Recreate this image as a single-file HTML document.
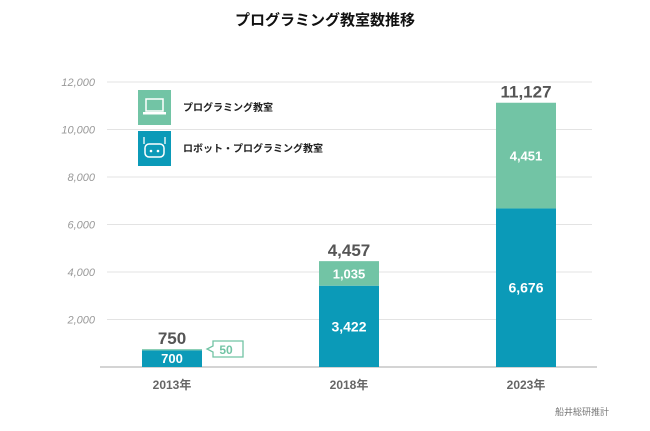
<!DOCTYPE html>
<html><head><meta charset="utf-8"><style>
body{margin:0;background:#fff;width:650px;height:426px;overflow:hidden;font-family:"Liberation Sans","Noto Sans CJK JP",sans-serif}
</style></head><body>
<svg width="650" height="426" xmlns="http://www.w3.org/2000/svg" style="font-family:'Liberation Sans','Noto Sans CJK JP',sans-serif">
<text x="325" y="25" text-anchor="middle" font-size="15" font-weight="bold" fill="#111">プログラミング教室数推移</text>
<g id="grid"></g>
<g id="bars"></g>
<g>
 <rect x="138" y="90" width="33" height="35" fill="#72c4a5"/>
 <rect x="146" y="99" width="17" height="12" fill="none" stroke="#fff" stroke-width="1.5"/>
 <rect x="143" y="112" width="23" height="2.5" fill="#fff"/>
 <text x="183" y="111" font-size="10" font-weight="bold" fill="#222">プログラミング教室</text>
 <rect x="138" y="131" width="33" height="35" fill="#0b9ab8"/>
 <rect x="145" y="144" width="19" height="13" rx="4" fill="none" stroke="#fff" stroke-width="1.5"/>
 <circle cx="151" cy="151" r="1.3" fill="#fff"/><circle cx="158" cy="151" r="1.3" fill="#fff"/>
 <line x1="144" y1="137" x2="144" y2="144" stroke="#fff" stroke-width="1.3"/><line x1="165" y1="137" x2="165" y2="144" stroke="#fff" stroke-width="1.3"/>
 <text x="183" y="152" font-size="10" font-weight="bold" fill="#222">ロボット・プログラミング教室</text>
</g>
<g>
 <path d="M213,341 H243 V357 H213 V352 L207,349 L213,346 Z" fill="#fff" stroke="#72c4a5" stroke-width="1.3"/>
 <text x="226" y="354" text-anchor="middle" font-size="12" font-weight="bold" fill="#72c4a5">50</text>
</g>
<text x="609" y="415" text-anchor="end" font-size="9" fill="#777">船井総研推計</text>
<script>
var categories=["2013年","2018年","2023年"];
var robotValues=[700,3422,6676];
var progValues=[50,1035,4451];
var totals=["750","4,457","11,127"];
var tickValues=[2000,4000,6000,8000,10000,12000];
var tickLabels=["2,000","4,000","6,000","8,000","10,000","12,000"];
var NS="http://www.w3.org/2000/svg";
function y(v){return 367-v*285/12000;}
function xc(i){return 172+i*177;}
function mk(tag,attrs,parent,txt){var e=document.createElementNS(NS,tag);for(var k in attrs)e.setAttribute(k,attrs[k]);if(txt!==undefined)e.textContent=txt;parent.appendChild(e);return e;}
var g=document.getElementById("grid"),b=document.getElementById("bars");
tickValues.forEach(function(v,i){
 var l=mk("line",{x1:107,x2:592,y1:y(v),y2:y(v),stroke:"#e3e3e3","stroke-width":1},g);
 
 
 var t=mk("text",{x:95,y:y(v)+4,"text-anchor":"end","font-size":11,"font-style":"italic",fill:"#999"},g,tickLabels[i]);
 
 
});
var ax=mk("line",{x1:100,x2:597,y1:367,y2:367,stroke:"#bbb","stroke-width":1.2},g);


categories.forEach(function(c,i){
 var x0=xc(i)-30,w=60,r=robotValues[i],p=progValues[i];
 var br=mk("rect",{x:x0,y:y(r),width:w,height:y(0)-y(r),fill:"#0b9ab8"},b);
 
 
 var bp=mk("rect",{x:x0,y:y(r+p),width:w,height:y(r)-y(r+p),fill:"#72c4a5"},b);
 
 
 var lr=mk("text",{x:xc(i),y:i==0?y(r/2)+4.5:y(r/2)+5,"text-anchor":"middle","font-size":i==0?13:14,"font-weight":"bold",fill:"#fff"},b,r.toLocaleString("en-US"));
 
 
 if(i>0){
  var lp=mk("text",{x:xc(i),y:y(r+p/2)+5,"text-anchor":"middle","font-size":13,"font-weight":"bold",fill:"#fff"},b,p.toLocaleString("en-US"));
  
  
 }
 var tt=mk("text",{x:xc(i),y:y(r+p)-5,"text-anchor":"middle","font-size":17,"font-weight":"bold",fill:"#555"},b,totals[i]);
 
 
 var cl=mk("text",{x:xc(i),y:389,"text-anchor":"middle","font-size":12,"font-weight":"bold",fill:"#666"},b,c);
 
 
});
</script>
</svg>
</body></html>
